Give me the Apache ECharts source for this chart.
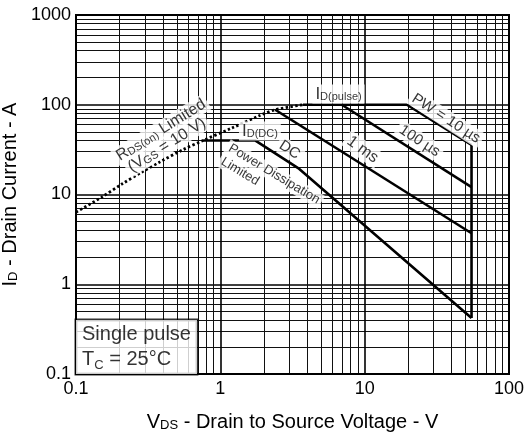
<!DOCTYPE html>
<html><head><meta charset="utf-8">
<script src="https://cdn.jsdelivr.net/npm/echarts@6/dist/echarts.min.js"></script>
<style>html,body{margin:0;padding:0;background:#fff}#c{width:525px;height:441px}</style>
</head><body><div id="c"></div>
<script>
// ---- data ----
const xTickLabels = ['0.1', '1', '10', '100'];
const yTickLabels = ['0.1', '1', '10', '100', '1000'];
const rdsLimit = [[0.1,6.35],[0.15,9.3],[0.21,13.2],[0.29,18],[0.38,23],[0.55,31.5],[0.76,40],[1.2,55],[1.88,76],[2.4,88],[3.74,100]];
const pw10us  = [[3.74,100],[19.6,100],[55,35.6]];
const pw100us = [[6.94,100],[55,12.1]];
const pw1ms   = [[2.4,88],[55,3.7]];
const dcLine  = [[0.76,40],[1.74,40],[3.46,19.7],[55,0.42]];
const vdssLimit = [[55,35.6],[55,0.42]];
const labelTexts = {
  rds1: '{m|R}{s|DS(on)}{m| Limited}',
  rds2: '{m|(V}{s|GS}{m| = 10 V)}',
  pulse: '{b|I}{s|D(pulse)}',
  pw10: 'PW = 10 µs',
  pw100: '100 µs',
  ms1: '1 ms',
  iddc: '{b|I}{t|D(DC)}',
  dc: 'DC',
  pd1: 'Power Dissipation',
  pd2: 'Limited',
  note: '{n|Single pulse}\n{n|T}{ns|C}{n| = 25°C}'
};

const FONT = '"Liberation Sans", Arial, Helvetica, sans-serif';
const T = (size, extra) => Object.assign({fontSize: size, fontFamily: FONT, color: '#000'}, extra || {});

function ann(x, y, text, rotate, size, extra) {
  return {
    value: [x, y],
    label: Object.assign({
      show: true, formatter: text, rotate: rotate, position: 'inside',
      fontSize: size, fontFamily: FONT, color: '#000',
      backgroundColor: '#fff', padding: [1, 3, 1, 3],
      rich: {
        m: T(16), s: T(11, {verticalAlign: 'bottom'}),
        b: T(17), t: T(11, {verticalAlign: 'bottom'}),
        n: T(20, {lineHeight: 25}), ns: T(13, {lineHeight: 22, verticalAlign: 'bottom'})
      }
    }, extra || {})
  };
}

const annotations = [
  ann(0.388, 52.3, labelTexts.rds1, 32, 16),
  ann(0.427, 35.6, labelTexts.rds2, 32, 16),
  ann(6.59, 131.8, labelTexts.pulse, 0, 17),
  ann(36.6, 70.3, labelTexts.pw10, -33, 15),
  ann(24.0, 39.5, labelTexts.pw100, -33, 15),
  ann(9.67, 31.7, labelTexts.ms1, -36, 16),
  ann(1.88, 51.0, labelTexts.iddc, 0, 15),
  ann(3.02, 31.3, labelTexts.dc, -33, 15),
  ann(2.36, 16.9, labelTexts.pd1, -31, 13),
  ann(1.37, 18.0, labelTexts.pd2, -31, 13),
  ann(0.1, 0.1, labelTexts.note, 0, 20, {
    align: 'left', verticalAlign: 'bottom', padding: [2, 6, 2, 6],
    borderColor: '#000', borderWidth: 1.5
  })
];

function fmt(labels) {
  return v => labels.find(t => Math.abs(Math.log10(+t) - Math.log10(v)) < 1e-6) || '';
}

function axis(name, labels, min, max, isX) {
  return {
    type: 'log', logBase: 10, min: min, max: max,
    name: name, nameLocation: 'middle', nameGap: isX ? 38 : 49,
    nameTextStyle: {
      fontSize: 20, fontFamily: FONT, color: '#000',
      rich: {m: T(20), s: T(13, {verticalAlign: 'bottom'})}
    },
    axisLabel: {formatter: fmt(labels), fontSize: 18, fontFamily: FONT, color: '#000', margin: isX ? 6 : 5},
    axisTick: {show: false},
    axisLine: {show: true, lineStyle: {color: '#000', width: 2}},
    splitLine: {show: true, lineStyle: {color: '#000', width: 1.6}},
    minorTick: {show: false, splitNumber: 9},
    minorSplitLine: {show: true, lineStyle: {color: '#111', width: 1}}
  };
}

const lineStyle = {color: '#000', width: 2.6};
function lineSeries(name, data, extra) {
  return Object.assign({
    name: name, type: 'line', data: data, symbol: 'none', silent: true,
    lineStyle: lineStyle, animation: false, z: 3
  }, extra || {});
}

const chart = echarts.init(document.getElementById('c'), null, {renderer: 'canvas'});
chart.setOption({
  backgroundColor: '#fff',
  animation: false,
  grid: {left: 76, right: 16, top: 15, bottom: 67, show: true, borderColor: '#000', borderWidth: 2,
         containLabel: false, outerBoundsMode: 'none'},
  xAxis: axis('{m|V}{s|DS}{m| - Drain to Source Voltage - V}', xTickLabels, 0.1, 100, true),
  yAxis: axis('{m|I}{s|D}{m| - Drain Current - A}', yTickLabels, 0.1, 1000, false),
  series: [
    lineSeries('RDS(on) Limited', rdsLimit, {smooth: 0.3, lineStyle: {color: '#000', width: 2.8, type: [2.4, 2.4]}}),
    lineSeries('PW = 10 µs', pw10us),
    lineSeries('100 µs', pw100us),
    lineSeries('1 ms', pw1ms),
    lineSeries('DC', dcLine),
    lineSeries('VDSS', vdssLimit),
    {
      type: 'scatter', data: annotations, symbolSize: 1, silent: true, clip: false,
      itemStyle: {color: 'transparent'}, z: 5, animation: false
    }
  ]
});
</script></body></html>
